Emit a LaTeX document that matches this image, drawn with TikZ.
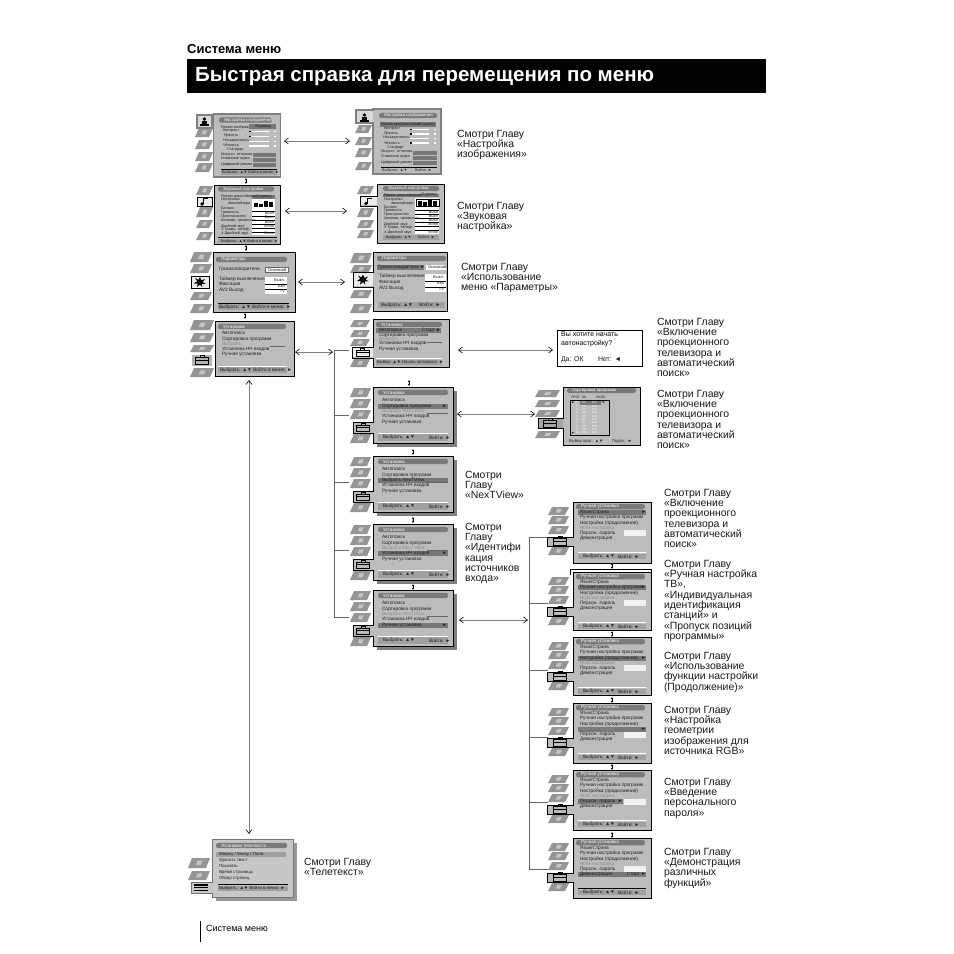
\documentclass[tikz,border=0pt]{standalone}
\usepackage{fontspec}
\setmainfont{Liberation Sans}
\newfontfamily\dvfont{DejaVu Sans}
\usetikzlibrary{arrows.meta}
\definecolor{scr}{HTML}{BCBCBC}
\definecolor{hl}{HTML}{787878}
\definecolor{strip}{HTML}{A0A0A0}
\definecolor{pillc}{HTML}{7A7A7A}
\definecolor{tabc}{HTML}{959595}
\definecolor{tabl}{HTML}{C4C4C4}
\definecolor{shad}{HTML}{808080}
\newcounter{nn}
\tikzset{
  x=1pt,y=-1pt,
  txt/.style={anchor=west,inner sep=0pt,outer sep=0pt,font=\fontsize{4.2}{4.2}\selectfont,text=black!88},
  whitetxt/.style={anchor=west,inner sep=0pt,outer sep=0pt,text=white,font=\fontsize{4.3}{4.3}\selectfont},
  greytxt/.style={txt,text=black!45},
  rtxt/.style={txt,anchor=east},
  label/.style={anchor=north west,inner sep=0pt,outer sep=0pt,align=left,font=\fontsize{10.45}{10.3}\selectfont,text=black!90},
  dbl/.style={{Straight Barb[length=4pt,width=6pt,color=black]}-{Straight Barb[length=4pt,width=6pt,color=black]},line width=.6pt,draw=black!50},
  stub/.style={line width=.6pt,draw=black!60},
  tiny/.style={{Latex[length=2.2pt,width=2.6pt]}-{Latex[length=2.2pt,width=2.6pt]},line width=.7pt,draw=black},
  outline/.style={draw=black,line width=1pt,line join=miter},
  softline/.style={draw=black!50,line width=1.3pt,line join=miter},
  mid/.style={txt/.append style={font=\fontsize{4.8}{4.8}\selectfont}},
  small/.style={txt/.append style={font=\fontsize{3.8}{3.8}\selectfont}},
}
\newcommand\Tx[4][]{\stepcounter{nn}\node[txt,#1] (n\arabic{nn}) at (#2,#3) {#4};}
\newcommand\Rc[5]{\fill[#5] (#1,#3) rectangle (#2,#4);}
\newcommand\Pill[5][]{\fill[pillc,rounded corners=2.4pt] (#2,#4-2.7) rectangle (#3,#4+2.7);\stepcounter{nn}\node[whitetxt,#1] (n\arabic{nn}) at (#2+5,#4) {#5};}
\newcommand\Tab[4]{% x y(top) w h
  \fill[tabc] (#1+4,#2) -- (#1+#3,#2) -- (#1+#3-4,#2+#4) -- (#1,#2+#4) -- cycle;
  \fill[tabl] (#1+.45*#3,#2+.25*#4) -- (#1+.66*#3,#2+.25*#4) -- (#1+.58*#3,#2+.7*#4) -- (#1+.36*#3,#2+.7*#4) -- cycle;}
\newcommand\Notch[8]{% x1 y1 x2 y2 ix iy1 iy2 style
  \path[#8] (#1,#2) -- (#3,#2) -- (#3,#4) -- (#1,#4) -- (#1,#7) -- (#5,#7) -- (#5,#6) -- (#1,#6) -- cycle;}
\newcommand\IcoPerson[2]{\fill[black] (#1-4.5,#2+3) rectangle (#1+4.5,#2+4.5);\fill[black] (#1-2.5,#2) rectangle (#1+2.5,#2+3);\fill[black] (#1,#2-2) circle (1.8);}
\newcommand\IcoNote[2]{\fill[black] (#1-2,#2+2.5) circle (1.8);\draw[black,line width=.8pt] (#1-.5,#2+2.5) -- (#1-.5,#2-3) -- (#1+3.5,#2-3);}
\newcommand\IcoStar[2]{\fill[black] (#1,#2-5) -- (#1+1.3,#2-1.6) -- (#1+5,#2-3) -- (#1+2.6,#2) -- (#1+5.5,#2+1.8) -- (#1+1.8,#2+2) -- (#1+2.2,#2+5.2) -- (#1,#2+2.6) -- (#1-3,#2+5) -- (#1-2.2,#2+1.5) -- (#1-6,#2+1.5) -- (#1-2.8,#2-.8) -- (#1-5,#2-4) -- (#1-1.5,#2-2.2) -- cycle;}
\newcommand\IcoBox[2]{\draw[black,line width=.7pt] (#1-6.5,#2-2.5) rectangle (#1+6.5,#2+4);\draw[black,line width=.7pt] (#1-6.5,#2) -- (#1+6.5,#2);\draw[black,line width=.7pt] (#1-2,#2-2.5) -- (#1-2,#2-4.5) -- (#1+2,#2-4.5) -- (#1+2,#2-2.5);}
\newcommand\IcoLines[2]{\fill[black] (#1-7,#2-3.4) rectangle (#1+7,#2-2);\fill[black] (#1-7,#2-.7) rectangle (#1+7,#2+.7);\fill[black] (#1-7,#2+2) rectangle (#1+7,#2+3.4);}
\newcommand\SetupTabs{\Tab{-23}{1}{21}{9}\Tab{-23}{12}{21}{9}\Tab{-23}{23}{21}{9}\Tab{-23}{47}{21}{9}}
\newcommand\SetupS[5]{%
\begin{scope}[shift={(373,#1)},mid]
  \SetupTabs
  \fill[shad] (4,4) rectangle (84,60);
  \Notch{0}{0}{80}{56}{-20}{35}{46}{fill=scr,outline}
  \IcoBox{-10}{40.5}
  \Pill[font=\fontsize{4.6}{4.6}\selectfont]{5}{75}{5.5}{Установка}
  #2
  \Tx{9}{13}{Автопоиск}
  \Tx{9}{19}{Сортировка программ}
  \Tx[#3]{9}{24}{Выбрать NexTView}
  \draw[black!60,line width=.4pt] (54,26) -- (75,26);
  \Tx[#4]{9}{29}{Установка НЧ входов}
  \Tx[#5]{9}{35}{Ручная установка}
  \Rc{5}{75}{47}{54}{strip}
  \fill[white] (5,45.5) rectangle (75,46.6);
  \Tx{10}{50.5}{Выбрать: ▲▼}
  \Tx{56}{50.5}{Войти: ►}
\end{scope}}
\newcommand\ManualS[4]{% y, height, band content, pass
\begin{scope}[shift={(573,#1)},mid]
  \Tab{-25}{5}{21}{8}\Tab{-25}{14}{21}{8}\Tab{-25}{24}{21}{8}\Tab{-25}{45}{21}{8}
  \Notch{0}{0}{78}{#2}{-26}{35}{44}{fill=scr,outline}
  \IcoBox{-13}{39}
  \Pill[font=\fontsize{4.6}{4.6}\selectfont]{3}{72}{4.7}{Ручная установка}
  #3
  \Rc{51}{73}{#4}{#4+5.5}{black!5}
  \Tx{7}{10}{Язык/Страна}
  \Tx{7}{15.5}{Ручная настройка программ}
  \Tx{7}{21}{Настройка (продолжение)}
  \Tx[greytxt]{7}{26}{RGB настройки}
  \Tx{7}{31.5}{Персон. пароль}
  \Tx{7}{36.5}{Демонстрация}
  \fill[white] (5,50) rectangle (73,51);
  \Rc{5}{73}{51.5}{57}{strip}
  \Tx{10}{54.3}{Выбрать: ▲▼}
  \Tx{45}{54.3}{Войти: ►}
\end{scope}}
\begin{document}
\begin{tikzpicture}
\path[use as bounding box,fill=white] (0,0) rectangle (954,954);
% title
\node[anchor=west,inner sep=0pt,font=\fontsize{13}{13}\selectfont\bfseries] (syshead) at (187,49.5) {Система меню};
\fill[black] (187,59) rectangle (766,93);
\node[anchor=west,inner sep=0pt,text=white,font=\fontsize{20.5}{20.5}\selectfont\bfseries] (title) at (195,76.5) {Быстрая справка для перемещения по меню};
\draw[black,line width=1pt] (200,921) -- (200,942);
\node[anchor=west,inner sep=0pt,font=\fontsize{9}{9}\selectfont] (foot) at (206,928) {Система меню};

\begin{scope}[small]
% ---------- row 1 left
\Tab{195}{128}{18}{9}\Tab{195}{140}{18}{9}\Tab{195}{152}{18}{9}\Tab{195}{163}{18}{9}
\path[fill=scr,softline] (213.5,114) rectangle (280.5,177);
\path[fill=black!15,softline] (197,115) rectangle (212,128);
\IcoPerson{204.5}{121}
\Pill{219}{272}{120}{Настройка изображения}
\Rc{249}{276}{124}{129}{hl}
\Tx{221}{127}{Режим изображ.}\Tx{255}{126.5}{Индивид.}
\Tx{223}{131}{Контраст}\Tx{224}{136}{Яркость}\Tx{223}{141}{Насыщенность}\Tx{223}{145}{Чёткость}\Tx{227}{150}{Стандарт}
\foreach \ya in {130.5,135.5,140.5,145} {\fill[white] (249,\ya) rectangle (269,\ya+1.8);\fill[white] (274,\ya) rectangle (276,\ya+1.8);}
\fill[black] (249,130.5) rectangle (250.5,132.3);\fill[black] (249,135.5) rectangle (250.5,137.3);
\Tx{221}{155}{Искусст. оттенков}\Tx{221}{159}{Снижение шума}\Tx{221}{164}{Цифровой режим}
\Rc{253}{276}{153}{167}{hl}
\Rc{253}{276}{157}{157.8}{scr}\Rc{253}{276}{162}{162.8}{scr}
\draw[black,line width=.8pt] (221,169) -- (277,169);
\Rc{221}{277}{170}{175}{strip}
\Tx{222}{172.5}{Выбрать: ▲▼ Войти в меню: ►}

% ---------- row 1 right
\Tab{355}{125}{17}{8}\Tab{355}{137}{17}{8}\Tab{355}{148}{17}{9}\Tab{355}{162}{17}{8}
\Notch{373}{109}{441}{174}{356}{110}{123}{fill=scr,softline}
\Rc{357}{373}{111}{122}{black!15}
\IcoPerson{364.5}{117}
\Pill{379}{437}{115.5}{Настройка изображения}
\Rc{380}{436}{122}{127}{hl}
\Tx{381}{124.5}{Режим изображения►}\Tx{419}{124.5}{Индивид.}
\Tx{384}{129}{Контраст}\Tx{384}{134}{Яркость}\Tx{383}{138}{Насыщенность}\Tx{384}{143}{Чёткость}\Tx{387}{148}{Стандарт}
\foreach \ya in {128.5,133,137.5,142} {\fill[white] (410,\ya) rectangle (429,\ya+1.8);\fill[white] (434,\ya) rectangle (436,\ya+1.8);}
\fill[black] (410,128.5) rectangle (411.5,130.3);\fill[black] (410,133) rectangle (411.5,134.8);\fill[black] (410,142) rectangle (411.5,143.8);
\Tx{381}{152}{Искусст. оттенков}\Tx{381}{157}{Снижение шума}\Tx{381}{162}{Цифровой режим}
\Rc{413}{437}{151}{165}{hl}
\Rc{413}{437}{155}{155.8}{scr}\Rc{413}{437}{160}{160.8}{scr}
\draw[black,line width=.8pt] (381,167) -- (437,167);
\Tx{382}{170}{Выбрать: ▲▼}\Tx{415}{170}{Войти: ►}

% ---------- row 2 left
\Tab{196}{186}{17}{9}\Tab{196}{207}{17}{10}\Tab{196}{220}{17}{8}\Tab{196}{232}{17}{8}
\path[fill=scr,outline] (214,185) rectangle (280,244);
\path[fill=black!8,outline] (197,197) rectangle (212,206);
\IcoNote{204}{201.5}
\Pill{218}{274}{189}{Звуковые настройки}
\Rc{252}{275}{194.5}{198.5}{hl}
\Tx{221}{196}{Режим эквалайзера}\Tx{256}{196.5}{Индивид.}
\Tx{221}{199.5}{Настройка}\Tx{228}{203}{эквалайзера}
\Rc{252}{275}{199}{235}{white}
\foreach \xa/\ya in {254/203,259/204,264/201,269/202} {\fill[black] (\xa,\ya) rectangle (\xa+4,207);}
\foreach \ya in {211,215.5,220,224,228,232} {\fill[black] (252,\ya) rectangle (275,\ya+.8);}
\Tx{221}{208}{Баланс}\Tx{221}{213}{Громкость}\Tx{221}{217}{Пространство}\Tx{221}{221}{Автомат. громкости}\Tx{221}{226}{Двойной звук}\Tx{221}{229.5}{{\dvfont ∧} Громк. телеф.}\Tx{221}{233}{{\dvfont ∧} Двойной звук}
\Tx[rtxt]{274}{213}{Выкл}\Tx[rtxt]{274}{217.5}{Выкл}\Tx[rtxt]{274}{222}{Выкл}\Tx[rtxt]{274}{226}{Моно}\Tx[rtxt]{274}{233.5}{Моно}
\draw[black,line width=.8pt] (218,237) -- (277,237);
\Rc{218}{277}{238.5}{243}{strip}
\Tx{221}{241}{Выбрать: ▲▼ Войти в меню: ►}

% ---------- row 2 right
\Tab{357}{186}{17}{8}\Tab{357}{208}{17}{9}\Tab{357}{220}{17}{8}\Tab{357}{230}{17}{8}
\Notch{377}{184}{444}{243}{360}{196}{206}{fill=scr,outline}
\Rc{361}{377}{197}{205}{black!8}
\IcoNote{368}{201}
\Pill{383}{439}{188.5}{Звуковые настройки}
\Rc{383}{439}{193.5}{197}{hl}
\Tx{384}{195}{Режим эквалайзера►}\Tx{421}{195}{Индивид.}
\Tx{384}{199}{Настройка}\Tx{391}{203}{эквалайзера}
\Rc{415}{439}{197.5}{234}{white}
\draw[black,line width=.9pt] (416,199) rectangle (439,206.5);
\foreach \xa/\ya in {418/201,423/202,428/200,433/201} {\fill[black] (\xa,\ya) rectangle (\xa+4,206);}
\foreach \ya in {210,214,218,222,226,230} {\fill[black] (415,\ya) rectangle (439,\ya+.8);}
\Tx{384}{207.5}{Баланс}\Tx{384}{211}{Громкость}\Tx{384}{215}{Пространство}\Tx{384}{219}{Автомат. громкости}\Tx{384}{224}{Двойной звук}\Tx{384}{228}{{\dvfont ∧} Громк. телеф.}\Tx{384}{232}{{\dvfont ∧} Двойной звук}
\Tx[rtxt]{438}{212}{Выкл}\Tx[rtxt]{438}{216}{Выкл}\Tx[rtxt]{438}{220}{Выкл}\Tx[rtxt]{438}{224}{Моно}\Tx[rtxt]{438}{232}{Моно}
\Rc{383}{439}{235}{240}{strip}
\Tx{386}{237.5}{Выбрать: ▲▼}\Tx{418}{237.5}{Войти: ►}
\end{scope}

% ---------- row 3 left
\begin{scope}[mid]
\Tab{190}{252}{22}{10}\Tab{190}{264}{22}{9}\Tab{190}{292}{22}{8}\Tab{190}{304}{22}{9}
\path[fill=scr,outline] (213,252) rectangle (295,312);
\path[fill=black!8,outline] (191,276) rectangle (209,288);
\IcoStar{200}{282}
\Pill[font=\fontsize{4.6}{4.6}\selectfont]{216}{287}{259.5}{Параметры}
\Tx{219}{269}{Громкоговорители}
\path[fill=white,draw=black!60,line width=.4pt] (265,267) rectangle (288,272.5);
\Tx[font=\fontsize{4}{4}\selectfont]{268}{269.8}{Основной}
\Rc{265}{287}{277}{294}{white}
\Rc{265}{287}{283.7}{284.5}{black}\Rc{265}{287}{288.7}{289.5}{black}
\Tx{219}{279}{Таймер выключения}\Tx{219}{284}{Фиксация}\Tx{219}{290}{AV2 Выход}
\Tx[rtxt,font=\fontsize{4}{4}\selectfont]{285}{280}{Выкл.}\Tx[rtxt,font=\fontsize{4}{4}\selectfont]{285}{286}{Вкл}\Tx[rtxt,font=\fontsize{4}{4}\selectfont]{285}{291.5}{TV}
\draw[black,line width=.8pt] (218,303) -- (289,303);
\Rc{218}{289}{304}{310}{strip}
\Tx{219}{307}{Выбрать: ▲▼ Войти в меню: ►}

% ---------- row 3 right
\Tab{350}{253}{22}{10}\Tab{350}{265}{22}{8}\Tab{350}{290}{22}{8}\Tab{350}{304}{22}{9}
\Notch{373}{252}{447}{311}{353}{272}{287}{fill=scr,outline}
\Rc{354}{373}{273}{286}{black!8}
\IcoStar{363}{279.5}
\Pill[font=\fontsize{4.6}{4.6}\selectfont]{377}{446}{258.5}{Параметры}
\Rc{377}{424}{264.5}{269.5}{hl}
\Tx{378}{267}{Громкоговорители ►}
\Rc{426}{446}{265}{270}{white}
\Tx[font=\fontsize{4}{4}\selectfont]{428}{267.5}{Основной}
\Rc{425}{446}{274}{292}{white}
\Rc{425}{446}{280.7}{281.5}{black}\Rc{425}{446}{286.7}{287.5}{black}
\Tx{379}{276}{Таймер выключения}\Tx{379}{282}{Фиксация}\Tx{379}{288}{AV2 Выход}
\Tx[rtxt,font=\fontsize{4}{4}\selectfont]{444}{277.5}{Выкл.}\Tx[rtxt,font=\fontsize{4}{4}\selectfont]{444}{283.5}{Вкл}\Tx[rtxt,font=\fontsize{4}{4}\selectfont]{444}{289.5}{TV}
\Rc{378}{445}{302}{308}{strip}
\Tx{381}{305}{Выбрать: ▲▼}\Tx{419}{305}{Войти: ►}

% ---------- row 4 left
\Tab{190}{320}{24}{10}\Tab{190}{333}{24}{9}\Tab{190}{345}{24}{7}\Tab{190}{368}{24}{9}
\path[fill=scr,outline] (215,321) rectangle (294,376);
\Rc{192}{212}{355}{366}{black!30}
\IcoBox{202}{360}
\Pill[font=\fontsize{4.6}{4.6}\selectfont]{218}{286}{326.5}{Установка}
\Tx{222}{333}{Автопоиск}\Tx{222}{339}{Сортировка программ}\Tx[greytxt]{222}{344}{Выбрать}\Tx{222}{349}{Установка НЧ входов}\Tx{222}{354}{Ручная установка}
\draw[black!60,line width=.4pt] (270,346) -- (285,346);
\fill[white] (218,365.5) rectangle (287,366.6);
\Rc{218}{287}{367}{373}{strip}
\Tx{220}{370}{Выбрать: ▲▼ Войти в меню: ►}

% ---------- row 4 right
\Tab{350}{320}{20}{7}\Tab{350}{330}{20}{7}\Tab{350}{339}{20}{7}\Tab{350}{359}{20}{8}
\Notch{373}{319}{449}{367}{352}{347}{358}{fill=scr,outline}
\Rc{353}{373}{348}{357}{black!8}
\IcoBox{362.5}{352.5}
\Pill[font=\fontsize{4.6}{4.6}\selectfont]{376}{442}{324.5}{Установка}
\Rc{376}{441}{327.5}{333}{hl}
\Tx{379}{330}{Автопоиск}\Tx[rtxt]{441}{330}{Старт ►}
\Tx{379}{335}{Сортировка программ}\Tx[greytxt]{379}{339}{Выбрать}\Tx{379}{343.5}{Установка НЧ входов}\Tx{379}{349}{Ручная установка}
\draw[black!60,line width=.4pt] (427,342) -- (442,342);
\fill[white] (376,358) rectangle (442,359);
\Rc{376}{442}{359.5}{365}{strip}
\Tx[font=\fontsize{4.2}{4.2}\selectfont]{377}{362}{Выбор: ▲▼ Начать автопоиск: ►}
\end{scope}

% dialog
\path[fill=white,draw=black,line width=1pt] (557.5,330) rectangle (642,366);
\node[anchor=north west,inner sep=0pt,align=left,font=\fontsize{7}{9}\selectfont] (dlg) at (561,331.5) {Вы хотите начать\\автонастройку?};
\Tx[font=\fontsize{7}{7}\selectfont]{561}{359.5}{Да: ОК}
\Tx[font=\fontsize{7}{7}\selectfont]{598}{359.5}{Нет: ◄}

% setup stack
\SetupS{387}{\Rc{5}{75}{16.5}{21.5}{hl}\Tx[rtxt]{74}{19}{►}}{greytxt}{}{}
\SetupS{456}{\Rc{5}{75}{21.5}{26.5}{hl}}{}{}{}
\SetupS{524}{\Rc{5}{75}{26.5}{31.5}{hl}\Tx[rtxt]{74}{29}{►}}{greytxt}{}{}
\SetupS{590}{\Rc{5}{75}{32.5}{37.5}{hl}\Tx[rtxt]{74}{35}{►}}{greytxt}{}{}

% sort screen
\Tab{535}{390}{25}{7}\Tab{535}{400}{25}{7}\Tab{535}{410}{25}{7}\Tab{535}{431}{25}{7}
\Notch{563}{387}{640}{445}{538}{418}{428}{fill=scr,draw=black,line width=.5pt}
\Rc{539}{563}{418.5}{427.5}{black!35}
\IcoBox{550}{423}
\Pill{567}{636}{390.5}{Сортировка программ}
\Tx[font=\fontsize{3.4}{3.4}\selectfont]{571}{397}{ПРОГ}\Tx[font=\fontsize{3.4}{3.4}\selectfont]{582}{397}{КА}\Tx[font=\fontsize{3.4}{3.4}\selectfont]{596}{397}{НАЗВ}
\path[fill=scr,draw=black,line width=1pt] (570,400) rectangle (609,435);
\Rc{580}{601}{401}{404.5}{hl}
\Tx[font=\fontsize{3.6}{3.6}\selectfont]{571}{402.5}{▲}\Tx[font=\fontsize{3.6}{3.6}\selectfont]{571}{433}{▼}\Tx[font=\fontsize{3.6}{3.6}\selectfont]{602}{402.5}{►}
\foreach \i/\ya in {1/402.6,2/406,3/409.3,4/412.6,5/416,6/419.3,7/422.6,8/426,9/429.3,10/432.6} {
  \node[txt,text=white,font=\fontsize{3}{3}\selectfont] (p\i) at (576,\ya) {\i};
  \node[txt,text=white,font=\fontsize{3}{3}\selectfont] (c\i) at (582,\ya) {C\i};
  \node[txt,text=white,font=\fontsize{3}{3}\selectfont] (d\i) at (592,\ya) {D/K};
}
\Tx{569}{441}{Выбор прог.: ▲▼}\Tx{612}{441}{Подтв.: ►}

% manual stack
\ManualS{502}{61}{\Rc{5}{73}{7.5}{12.5}{hl}\Tx[rtxt]{73}{10}{►}}{28}
\draw[black,line width=1pt] (570,575) -- (570,569) -- (651,569) -- (651,572);
\ManualS{572}{58}{\Rc{5}{73}{13}{18}{hl}\Tx[rtxt]{73}{15.5}{►}}{28}
\ManualS{637}{58}{\Rc{5}{73}{18.5}{23.5}{hl}\Tx[rtxt]{73}{21}{►}}{28}
\ManualS{703}{60}{\Rc{5}{73}{23.5}{28.5}{hl}\Tx[rtxt]{73}{26}{►}}{29}
\ManualS{770}{60}{\Rc{5}{50}{29}{34}{hl}\Tx[rtxt]{49.5}{31.5}{►}}{29}
\ManualS{838}{60}{\Rc{5}{73}{34}{39}{hl}\Tx[rtxt,mid]{73}{36.5}{Старт ►}}{28}
\draw[black,line width=.8pt] (578,888.5) -- (646,888.5);

% teletext
\Tab{188}{858}{22}{10}\Tab{188}{871}{22}{9}
\fill[black!40] (216,843) rectangle (297,901);
\Notch{212}{839}{293}{897}{191}{882}{893}{fill=black!22,draw=black!55,line width=.8pt}
\IcoLines{200.5}{887.5}
\Pill[font=\fontsize{4.5}{4.5}\selectfont]{216}{287}{845.5}{Установки телетекста}
\Rc{216}{286}{851.5}{857}{strip}
\Tx[font=\fontsize{4.4}{4.4}\selectfont]{219}{854}{Вверху / Внизу / Полн.}
\Tx[font=\fontsize{4.4}{4.4}\selectfont]{219}{860.5}{Удалить текст}\Tx[font=\fontsize{4.4}{4.4}\selectfont]{219}{866}{Показать}\Tx[font=\fontsize{4.4}{4.4}\selectfont]{219}{872}{Время страницы}\Tx[font=\fontsize{4.4}{4.4}\selectfont]{219}{878}{Обзор страниц}
\draw[black,line width=.8pt] (218,884.5) -- (288,884.5);
\Rc{218}{288}{886}{891}{strip}
\Tx[font=\fontsize{4.4}{4.4}\selectfont]{219}{888.5}{Выбрать: ▲▼ Войти в меню: ►}

% connectors
\coordinate (a1a) at (284,141);\coordinate (a1b) at (350,141);
\coordinate (a2a) at (285,211);\coordinate (a2b) at (347,211);
\coordinate (a3a) at (298,282);\coordinate (a3b) at (345,282);
\coordinate (a4a) at (295,352);\coordinate (a4b) at (333,352);
\coordinate (a5a) at (458,350);\coordinate (a5b) at (553,350);
\coordinate (a6a) at (457,414);\coordinate (a6b) at (535,414);
\coordinate (a7a) at (459,620);\coordinate (a7b) at (528,620);
\coordinate (a8a) at (249,380);\coordinate (a8b) at (249,834);
\foreach \i in {1,...,8} {\draw[dbl] (a\i a) -- (a\i b);}
% buses
\coordinate (b1top) at (334,350);\coordinate (b1bot) at (334,617);
\draw[stub] (b1top) -- (b1bot);
\foreach \n/\ya in {s1/350,s2/415,s3/482,s4/550,s5/617} {\coordinate (\n) at (349,\ya);\draw[stub] (334,\ya) -- (\n);}
\coordinate (b2top) at (529,537);\coordinate (b2bot) at (529,869);
\draw[stub] (b2top) -- (b2bot);
\foreach \n/\ya in {m1/537,m2/603,m3/670,m4/737,m5/802,m6/869} {\coordinate (\n) at (548,\ya);\draw[stub] (529,\ya) -- (\n);}
% tiny arrows
\foreach \n/\xa/\ya in {t1/246/178,t2/246/245,t3/245/313,t4/409/380,t5/413/449,t6/413/517,t7/413/584,t8/612/563,t9/612/631,t10/612/697,t11/612/764,t12/612/832} {
  \coordinate (\n a) at (\xa,\ya);\coordinate (\n b) at (\xa,\ya+6);\draw[tiny] (\n a) -- (\n b);}

% labels
\node[label] (l1) at (457,130) {Смотри Главу\\«Настройка\\изображения»};
\node[label] (l2) at (457,202) {Смотри Главу\\«Звуковая\\настройка»};
\node[label] (l3) at (461,263) {Смотри Главу\\«Использование\\меню «Параметры»};
\node[label] (l4) at (657,318) {Смотри Главу\\«Включение\\проекционного\\телевизора и\\автоматический\\поиск»};
\node[label] (l5) at (657,390) {Смотри Главу\\«Включение\\проекционного\\телевизора и\\автоматический\\поиск»};
\node[label] (l6) at (465,471) {Смотри\\Главу\\«NexTView»};
\node[label] (l7) at (465,523) {Смотри\\Главу\\«Идентифи\\кация\\источников\\входа»};
\node[label] (l8) at (664,489) {Смотри Главу\\«Включение\\проекционного\\телевизора и\\автоматический\\поиск»};
\node[label] (l9) at (664,560) {Смотри Главу\\«Ручная настройка\\ТВ»,\\«Индивидуальная\\идентификация\\станций» и\\«Пропуск позиций\\программы»};
\node[label] (l10) at (664,652) {Смотри Главу\\«Использование\\функции настройки\\(Продолжение)»};
\node[label] (l11) at (664,706) {Смотри Главу\\«Настройка\\геометрии\\изображения для\\источника RGB»};
\node[label] (l12) at (664,778) {Смотри Главу\\«Введение\\персонального\\пароля»};
\node[label] (l13) at (664,848) {Смотри Главу\\«Демонстрация\\различных\\функций»};
\node[label] (l14) at (304,858) {Смотри Главу\\«Телетекст»};
\end{tikzpicture}
\end{document}
